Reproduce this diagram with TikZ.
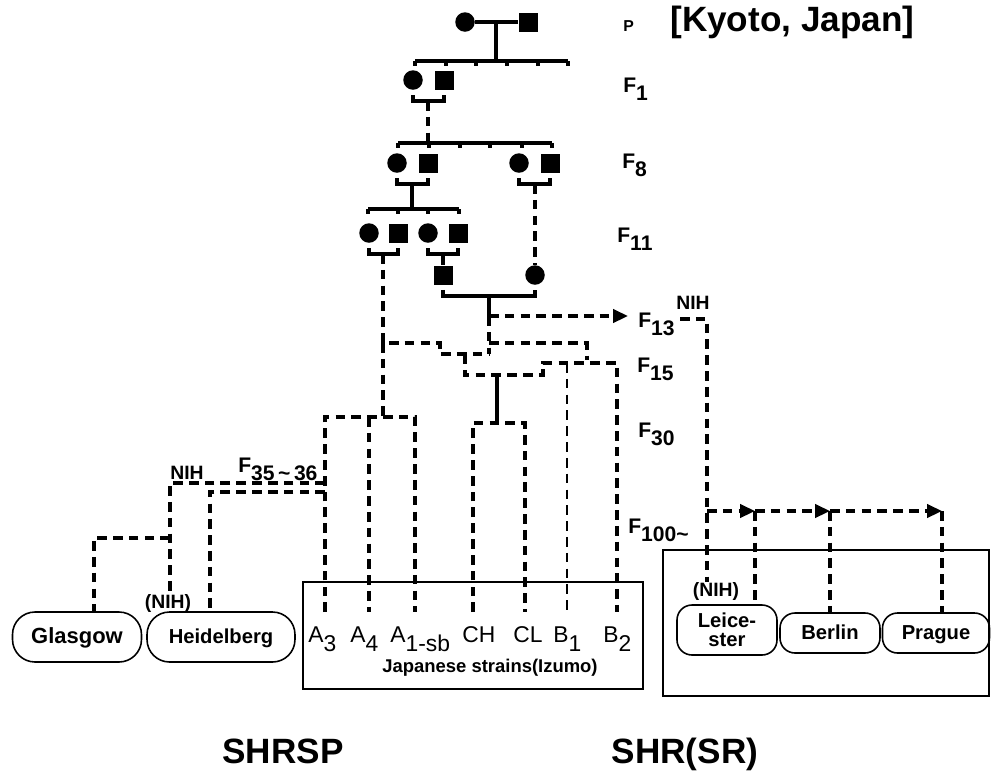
\documentclass[tikz,border=0pt]{standalone}
\usepackage{fontspec}
\setmainfont{Liberation Sans}
\usetikzlibrary{arrows.meta,positioning,calc}

\newcommand{\gen}[1]{F\raisebox{-0.8ex}{#1}}
\newcommand{\strsub}[1]{\raisebox{-0.8ex}{#1}}

\begin{document}
\begin{tikzpicture}[
        x=0.02cm, y=-0.02cm,
        female/.style={circle, fill=black, inner sep=0pt, minimum size=0.39cm},
        male/.style={rectangle, fill=black, inner sep=0pt, minimum size=0.38cm},
        ped/.style={line width=2pt},
        dashpath/.style={line width=2pt, dash pattern=on 5.5pt off 3.5pt},
        thinpath/.style={line width=1.1pt, dash pattern=on 5.5pt off 3.5pt},
        arrow/.style={dashpath, -{Triangle[length=8.5pt, width=7.5pt]}},
        gen/.style={font=\fontsize{12}{13}\selectfont\bfseries, inner sep=0pt, anchor=base west},
        strain/.style={font=\fontsize{13}{14}\selectfont, inner sep=0pt, anchor=base west},
        lab/.style={font=\fontsize{11}{12}\selectfont\bfseries, inner sep=0pt},
        colony/.style={draw, line width=0.9pt, minimum height=1cm, inner sep=0pt, font=\fontsize{11.5}{11}\selectfont\bfseries},
        oneline/.style={text height=1.6ex, text depth=0.3ex},
        frame/.style={draw, line width=0.9pt},
        title/.style={font=\fontsize{20}{22}\selectfont\bfseries, inner sep=0pt, anchor=base}
    ]
        \useasboundingbox (0,0) rectangle (991,772);

        % Parents and F1
        \node (pf) [female] at (465,22) {};
        \node (pm) [male] at (528,22) {};
        \coordinate (pc) at (496,22);
        \coordinate (f1top) at (496,61);
        \draw [ped] (pf) -- (pm);
        \draw [ped] (pc) -- (f1top);
        \draw [ped] (415,61) -- (568,61);
        \foreach \x in {415,446,476,507,538,568} \draw [ped] (\x,61) -- (\x,66);

        \node (f1f) [female] at (413,80) {};
        \node (f1m) [male] at (444,80) {};

        % F8
        \coordinate (f1c) at (428,101);
        \coordinate (f8top) at (428,143);
        \draw [dashpath] (f1c) -- (f8top);
        \draw [ped] (398,143) -- (552,143);
        \foreach \x in {398,429,460,490,522,552} \draw [ped] (\x,143) -- (\x,148);

        \node (f8f) [female] at (397,163) {};
        \node (f8m) [male] at (428,163) {};
        \node (f8g) [female] at (519,163) {};
        \node (f8n) [male] at (550,163) {};

        % F11
        \coordinate (f8c) at (412,184);
        \coordinate (f8d) at (535,184);
        \coordinate (f11top) at (412,209);
        \draw [ped] (f8c) -- (f11top);
        \draw [ped] (368,209) -- (459,209);
        \foreach \x in {368,398,428,459} \draw [ped] (\x,209) -- (\x,214);

        \node (f11f) [female] at (369,233) {};
        \node (f11m) [male] at (398,233) {};
        \node (f11g) [female] at (428,233) {};
        \node (f11n) [male] at (458,233) {};

        \node (s13m) [male] at (443,275) {};
        \node (s13f) [female] at (535,275) {};
        \coordinate (f11c) at (383,254);
        \coordinate (f11d) at (443,254);
        \draw [ped] (f11d) -- (s13m);
        \draw [dashpath] (f8d) -- (s13f);

        % mating brackets
        \foreach \a/\b in {f1f/f1m, f8f/f8m, f8g/f8n, f11f/f11m, f11g/f11n, s13m/s13f}
            \draw [ped] ([yshift=-0.1cm]\a.south) -- ++(0,6) -| ([yshift=-0.1cm]\b.south);

        % generation labels
        \node (plab) [gen, font=\fontsize{9}{10}\selectfont\bfseries] at (623,31) {P};
        \node (kyoto) [font=\fontsize{20}{22}\selectfont\bfseries, anchor=west, inner sep=0pt] at (670,22) {[Kyoto, Japan]};
        \node (f1lab) [gen] at (623,92) {\gen{1}};
        \node (f8lab) [gen] at (622,168) {\gen{8}};
        \node (f11lab) [gen] at (617,242) {\gen{11}};
        \node (f13lab) [gen] at (638,327) {\gen{13}};
        \node (f15lab) [gen] at (637,372) {\gen{15}};
        \node (f30lab) [gen] at (638,437) {\gen{30}};
        \node (f100lab) [gen] at (628,533) {\gen{100\textasciitilde}};
        \node (f35lab) [gen] at (238,472) {\gen{35\,\textasciitilde\,36}};

        % F13 and F15 crosses
        \coordinate (s13c) at (489,297);
        \coordinate (f13) at (489,316);
        \draw [ped] (s13c) -- (f13);
        \draw [arrow] (f13) -- ($(f13 -| f13lab.west)+(-10,0)$);
        \draw [dashpath] (f13) -- (489,354);
        \draw [dashpath] (f11c) -- (383,343) -- (440,343) -- (440,354) -- (489,354);
        \draw [dashpath] (489,343) -- (587,343) -- (587,360);

        % Japanese strains (Izumo)
        \foreach \n/\x in {a3/325, a4/369, a1/415, ch/473, cl/525, b1/567, b2/617}
            \coordinate (\n) at (\x,612);
        \coordinate (abr) at (383,417);
        \coordinate (cbr) at (497,423);
        \draw [dashpath] (383,343) -- (abr);
        \draw [dashpath] (a3) -- (a3 |- abr) -- (a1 |- abr) -- (a1);
        \draw [dashpath] (a4 |- abr) -- (a4);
        \draw [dashpath] (465,354) -- (465,375) -- (543,375) -- (543,363) -- (b2 |- 0,363) -- (b2);
        \draw [ped] (cbr |- 0,375) -- (cbr);
        \draw [dashpath] (ch) -- (ch |- cbr) -- (cl |- cbr) -- (cl);
        \draw [thinpath] (b1 |- 0,363) -- (b1);

        \draw [frame] (303,582) rectangle (643,689);
        \node (a3lab) [strain] at (308,642) {A\strsub{3}};
        \node (a4lab) [strain] at (350,642) {A\strsub{4}};
        \node (a1lab) [strain] at (390,642) {A\strsub{1-sb}};
        \node (chlab) [strain] at (462,642) {CH};
        \node (cllab) [strain] at (513,642) {CL};
        \node (b1lab) [strain] at (553,642) {B\strsub{1}};
        \node (b2lab) [strain] at (603,642) {B\strsub{2}};
        \node (izumo) [lab, font=\fontsize{10.5}{12}\selectfont\bfseries] at (490,668) {Japanese strains(Izumo)};

        % SHRSP colonies abroad
        \node (glasgow) [colony, oneline, rounded corners=0.45cm, minimum width=2.58cm, font=\fontsize{12.5}{12}\selectfont\bfseries] at (77,637) {Glasgow};
        \node (heid) [colony, oneline, rounded corners=0.45cm, minimum width=2.96cm] at (221,637) {Heidelberg};
        \node (nihlab) [lab] at (168,603) {(NIH)};
        \node (nihl) [lab] at (187,473) {NIH};

        \coordinate (nih) at (170,483);
        \coordinate (hdl) at (210,492);
        \coordinate (gla) at (94,538);
        \draw [dashpath] (a3 |- nih) -- (nih) -- (nih |- nihlab.north);
        \draw [dashpath] (a3 |- hdl) -- (hdl) -- (hdl |- heid.north);
        \draw [dashpath] (nih |- gla) -- (gla) -- (gla |- glasgow.north);

        % SHR(SR) colonies
        \draw [frame] (663,550) rectangle (989,696);
        \node (leicester) [colony, align=center, rounded corners=0.3cm, minimum width=2cm] at (727,630) {Leice-\\ster};
        \node (berlin) [colony, oneline, rounded corners=0.3cm, minimum width=2cm, minimum height=0.8cm] at (830,633) {Berlin};
        \node (prague) [colony, oneline, rounded corners=0.3cm, minimum width=2.14cm, minimum height=0.8cm] at (936,633) {Prague};
        \node (leinih) [lab] at (716,591) {(NIH)};
        \node (nihr) [lab] at (693,303) {NIH};

        \coordinate (nihs) at (680,319);
        \coordinate (nihd) at (707,319);
        \coordinate (eu) at (707,511);
        \coordinate (lei) at (755,511);
        \coordinate (ber) at (830,511);
        \coordinate (pra) at (942,511);
        \draw [dashpath] (nihs) -- (nihd) -- (nihd |- leinih.north);
        \draw [arrow] (eu) -- (lei);
        \draw [arrow] (lei) -- (ber);
        \draw [arrow] (ber) -- (pra);
        \draw [dashpath] (lei) -- (lei |- leicester.north);
        \draw [dashpath] (ber) -- (ber |- berlin.north);
        \draw [dashpath] (pra) -- (pra |- prague.north);

        % strain names
        \node (shrsp) [title] at (283,763) {SHRSP};
        \node (shr) [title] at (685,763) {SHR(SR)};

    \end{tikzpicture}
\end{document}
